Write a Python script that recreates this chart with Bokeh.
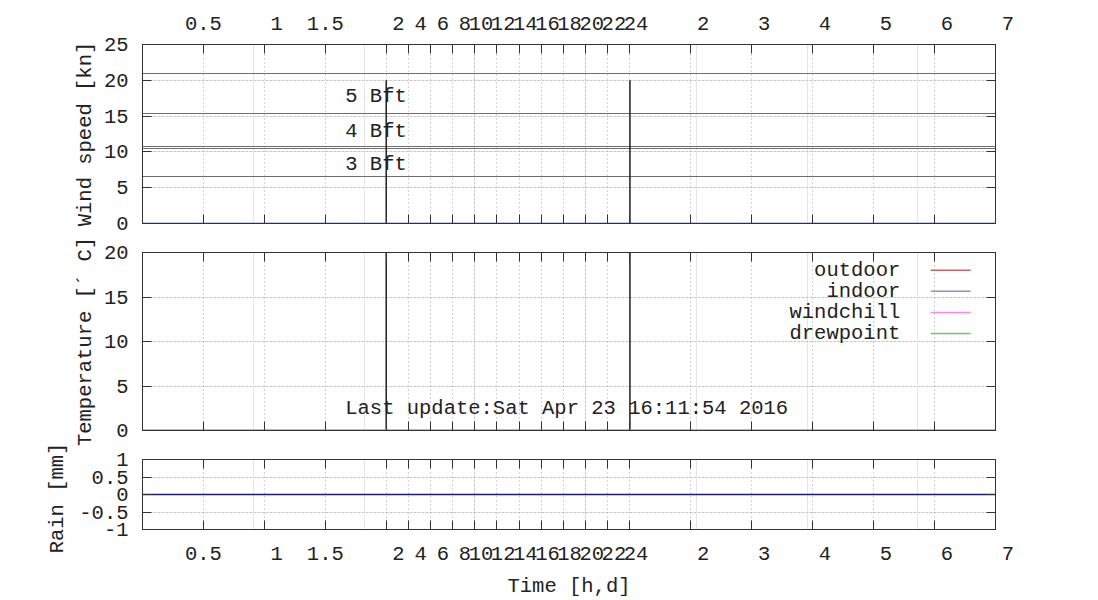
import math
from bokeh.plotting import figure
from bokeh.models import LinearAxis, FixedTicker, Range1d, Grid
from bokeh.layouts import column, row
from bokeh.core.properties import value
from bokeh.embed import file_html
from bokeh.resources import INLINE

# ---------------- data ----------------
# time axis: hours 0..2 (fine), hours 2..24, then days 1..7
hour_ticks_fine = [0.5, 1, 1.5]
hour_ticks = [2, 4, 6, 8, 10, 12, 14, 16, 18, 20, 22, 24]
day_ticks = [2, 3, 4, 5, 6, 7]
fine_labels = ["0.5", "1", "1.5"]
hour_labels = ["2", "4", "6", "8", "10", "12", "14", "16", "18", "20", "22", "24"]
day_labels = ["2", "3", "4", "5", "6", "7"]

sample_hours = [0, 0.5, 1, 1.5, 2, 6, 12, 18, 24, 48, 72, 96, 120, 144, 168]
wind_speed = [0, 0, 0, 0, 0, 0, 0, 0, 0, 0, 0, 0, 0, 0, 0]
temp_outdoor = [0, 0, 0, 0, 0, 0, 0, 0, 0, 0, 0, 0, 0, 0, 0]
temp_indoor = [0, 0, 0, 0, 0, 0, 0, 0, 0, 0, 0, 0, 0, 0, 0]
temp_windchill = [0, 0, 0, 0, 0, 0, 0, 0, 0, 0, 0, 0, 0, 0, 0]
temp_dewpoint = [0, 0, 0, 0, 0, 0, 0, 0, 0, 0, 0, 0, 0, 0, 0]
rain = [0, 0, 0, 0, 0, 0, 0, 0, 0, 0, 0, 0, 0, 0, 0]

section_bounds_hours = [2, 24]
bft_limits = [6.6, 10.5, 10.7, 15.4, 20.9]
bft_names = ["5 Bft", "4 Bft", "3 Bft"]
bft_label_y = [17.7, 12.8, 8.2]

wind_ticks = [0, 5, 10, 15, 20, 25]
temp_ticks = [0, 5, 10, 15, 20]
rain_ticks = [-1, -0.5, 0, 0.5, 1]
rain_labels = ["-1", "-0.5", "0", "0.5", "1"]

wind_title = "Wind speed [kn]"
temp_title = "Temperature [\u00b4 C]"
rain_title = "Rain [mm]"
x_title = "Time [h,d]"
legend_names = ["outdoor", "indoor", "windchill", "drewpoint"]
update_text = "Last update:Sat Apr 23 16:11:54 2016"

# ---------------- styles ----------------
FONT = "Liberation Mono"
FS = "20.5px"
TXT = "#222222"
AX = "#333333"
NB = "\u00a0"
series_colors = ["#c86464", "#9090d4", "#ff84e8", "#6cc86c"]
wind_color = "#2030a0"
rain_color = "#1a1a70"

STRIP_W = 70         # strip holding the rotated rain title
W = 1020             # width of each panel figure
H = [236, 211, 153]  # panel figure heights
BL = 72              # left border of panels


def to_axis(h):
    """piecewise time axis: 0-2 h, 2-24 h, 1-7 d"""
    if h <= 2:
        return 22.0 * h
    if h <= 24:
        return 44.0 + 2.0 * (h - 2)
    return 88.0 + 11.0 * (h / 24.0 - 1)


xt, xl = [], []
for h, lab in zip(hour_ticks_fine, fine_labels):
    xt.append(to_axis(h)); xl.append(lab)
for h, lab in zip(hour_ticks, hour_labels):
    xt.append(to_axis(h)); xl.append(lab)
for d, lab in zip(day_ticks, day_labels):
    xt.append(to_axis(d * 24)); xl.append(lab)
# gnuplot labels are width-3 strings, centred on the tick
xl_pad = [NB * (3 - len(s)) + s for s in xl]
x_over = {t: s for t, s in zip(xt, xl_pad)}
xs = [to_axis(h) for h in sample_hours]


def styled_axis(ticks, overrides, show_labels, label=None):
    ax = LinearAxis(ticker=FixedTicker(ticks=ticks))
    ax.axis_line_color = AX
    ax.major_tick_line_color = AX
    ax.major_tick_in = 9
    ax.major_tick_out = 0
    ax.minor_tick_line_color = None
    if show_labels:
        ax.major_label_overrides = overrides
        ax.major_label_text_font = FONT
        ax.major_label_text_font_size = FS
        ax.major_label_text_color = TXT
    else:
        ax.major_label_overrides = {t: "" for t in ticks}
        ax.major_label_text_font_size = "0px"
        ax.major_label_standoff = 0
    if label:
        ax.axis_label = label
        ax.axis_label_text_font = FONT
        ax.axis_label_text_font_size = FS
        ax.axis_label_text_font_style = "normal"
        ax.axis_label_text_color = TXT
    return ax


def make_fig(height, top, bottom, yr, yticks, yover, ylabel, xlab_side, xlabel=None):
    p = figure(width=W, height=height, output_backend="svg", toolbar_location=None,
               x_axis_location=None, y_axis_location=None,
               x_range=Range1d(0, 154), y_range=Range1d(*yr),
               min_border_left=BL, min_border_right=95,
               min_border_top=top, min_border_bottom=bottom)
    p.outline_line_color = AX
    p.background_fill_color = "white"
    p.border_fill_color = "white"
    p.add_layout(Grid(dimension=0, ticker=FixedTicker(ticks=xt),
                      grid_line_color="#a8a8a8", grid_line_dash="1 3"))
    p.add_layout(Grid(dimension=1, ticker=FixedTicker(ticks=yticks),
                      grid_line_color="#a8a8a8", grid_line_dash="1 3"))
    la = styled_axis(yticks, yover, True, ylabel)
    la.major_label_standoff = 14
    la.axis_label_standoff = 4
    p.add_layout(la, "left")
    p.add_layout(styled_axis(yticks, None, False), "right")
    for side in ["above", "below"]:
        show = (side == xlab_side)
        ax = styled_axis(xt, x_over, show, xlabel if (show and xlabel) else None)
        if show:
            ax.major_label_standoff = 9 if side == "above" else 13
            ax.axis_label_standoff = 6
        p.add_layout(ax, side)
    return p


# ---------- wind panel ----------
p1 = make_fig(H[0], 44, 13, (0, 25), wind_ticks, {t: str(t) for t in wind_ticks},
              wind_title, "above")
p1.hspan(y=bft_limits, line_color="#6e6e6e", line_width=1)
p1.text(x=[36.6] * 3, y=bft_label_y, text=bft_names, text_font=value(FONT),
        text_font_size=value(FS), text_color=TXT, text_baseline="middle", text_align="left")
bx = [to_axis(b) for b in section_bounds_hours]
p1.segment(x0=bx, y0=[0, 0], x1=bx, y1=[20, 20], line_color="#202020", line_width=1.5)
p1.line(xs, wind_speed, line_color=wind_color, line_width=1.5)

# ---------- temperature panel ----------
p2 = make_fig(H[1], 16, 17, (0, 20), temp_ticks, {t: str(t) for t in temp_ticks},
              temp_title, None)
p2.text(x=[36.6], y=[2.5], text=[update_text], text_font=value(FONT),
        text_font_size=value(FS), text_color=TXT, text_baseline="middle", text_align="left")
p2.segment(x0=bx, y0=[0, 0], x1=bx, y1=[20, 20], line_color="#202020", line_width=1.5)
leg_y = [18.0, 15.64, 13.27, 10.9]
p2.text(x=[136.8] * 4, y=leg_y, text=legend_names, text_font=value(FONT),
        text_font_size=value(FS), text_color=TXT, text_baseline="middle", text_align="right")
p2.segment(x0=[142.3] * 4, y0=leg_y, x1=[149.5] * 4, y1=leg_y,
           line_color=series_colors, line_width=1.5)
for ys, c in zip([temp_outdoor, temp_indoor, temp_windchill, temp_dewpoint], series_colors):
    p2.line(xs, ys, line_color=c, line_width=1.5)

# ---------- rain panel ----------
p3 = make_fig(H[2], 12, 66, (-1, 1), rain_ticks, dict(zip(rain_ticks, rain_labels)),
              None, "below", x_title)
p3.line(xs, rain, line_color=rain_color, line_width=1.5)

# ---------- strip with the rotated rain title (screen-like coords) ----------
total_h = sum(H)
strip = figure(width=STRIP_W, height=total_h, output_backend="svg", toolbar_location=None,
               x_axis_location=None, y_axis_location=None,
               x_range=Range1d(0, STRIP_W), y_range=Range1d(total_h, 0),
               min_border=0)
strip.outline_line_color = None
strip.grid.visible = False
strip.text(x=[57], y=[497.5], text=[rain_title], angle=math.pi / 2,
           text_font=value(FONT), text_font_size=value(FS), text_color=TXT,
           text_align="center", text_baseline="middle")

layout = row(strip, column(p1, p2, p3, spacing=0), spacing=0)
open("out.html", "w").write(file_html(layout, INLINE))
